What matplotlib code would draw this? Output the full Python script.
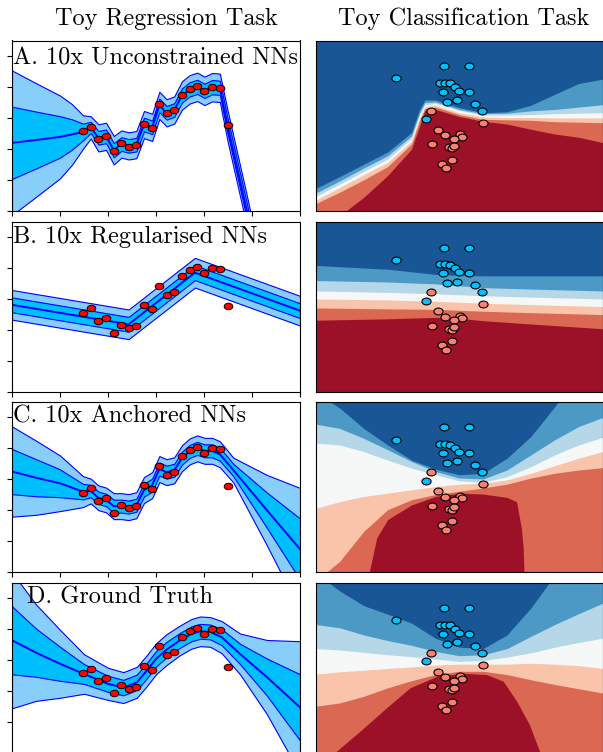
"""Toy regression / classification comparison figure."""

import numpy as np
import matplotlib
matplotlib.use('Agg')
import matplotlib.pyplot as plt
from matplotlib.path import Path

plt.rcParams['font.family'] = 'cmr10'
plt.rcParams['axes.formatter.use_mathtext'] = True

# ---- regression data (same points in every row) ----
x_train = [-1.52, -1.36, -1.20, -1.04, -0.88, -0.72, -0.57, -0.41, -0.25, -0.08,
           0.07, 0.22, 0.38, 0.54, 0.70, 0.86, 1.01, 1.17, 1.33, 1.49]
y_train = [-0.44, -0.29, -0.69, -0.60, -1.09, -0.82, -0.93, -0.88, -0.20, -0.33,
           0.44, 0.14, 0.24, 0.75, 0.94, 1.04, 0.85, 1.00, 0.97, -0.23]

# A. unconstrained
reg_a_x = [-3, -2.5, -2, -1.75, -1.52, -1.36, -1.20, -1.04, -0.88, -0.72, -0.57, -0.41,
           -0.25, -0.08, 0.07, 0.22, 0.38, 0.54, 0.70, 0.86, 1.01, 1.17, 1.33, 1.49,
           1.89, 2.5, 3.0]
reg_a_mean = [-0.81, -0.72, -0.62, -0.54, -0.46, -0.31, -0.65, -0.60, -1.05, -0.85, -0.91,
              -0.87, -0.22, -0.31, 0.40, 0.16, 0.25, 0.72, 0.92, 1.00, 0.87, 0.99, 0.97,
              -0.25, -3.0, -7.4, -11.0]
reg_a_std = [1.17, 0.92, 0.67, 0.49, 0.27, 0.18, 0.22, 0.22, 0.23, 0.22, 0.22, 0.22,
             0.22, 0.22, 0.22, 0.22, 0.22, 0.23, 0.23, 0.23, 0.23, 0.23, 0.23, 0.25,
             0.25, 0.25, 0.25]

# B. regularised
reg_b_x = [-3, -0.57, 0.81, 3]
reg_b_mean = [-0.18, -0.81, 0.86, -0.37]
reg_b_std = [0.24, 0.24, 0.24, 0.24]

# C. anchored
reg_c_x = [-3, -2.5, -2, -1.52, -1.36, -1.20, -1.04, -0.88, -0.72, -0.57, -0.41, -0.25,
           -0.08, 0.07, 0.22, 0.38, 0.54, 0.70, 0.86, 1.01, 1.17, 1.33, 1.61, 2.31, 3.0]
reg_c_mean = [0.25, 0.05, -0.13, -0.40, -0.38, -0.60, -0.67, -0.87, -0.87, -0.90, -0.84,
              -0.35, -0.19, 0.33, 0.23, 0.29, 0.68, 0.90, 1.00, 0.92, 0.92, 0.81, 0.30,
              -1.00, -2.26]
reg_c_std = [0.73, 0.60, 0.45, 0.25, 0.20, 0.20, 0.20, 0.21, 0.21, 0.21, 0.21, 0.21,
             0.21, 0.21, 0.21, 0.21, 0.21, 0.21, 0.21, 0.21, 0.21, 0.21, 0.20, 0.57, 0.99]

# D. ground truth
reg_d_x = [-3, -2.5, -2, -1.5, -1, -0.68, -0.4, -0.19, 0, 0.22, 0.5, 0.74, 0.92, 1.13,
           1.37, 1.75, 2.31, 3.0]
reg_d_mean = [0.63, 0.23, -0.13, -0.46, -0.78, -0.90, -0.73, -0.35, 0.03, 0.33, 0.63,
              0.84, 0.92, 0.90, 0.73, 0.19, -0.56, -1.54]
reg_d_std = [1.10, 0.78, 0.55, 0.32, 0.26, 0.25, 0.25, 0.25, 0.25, 0.25, 0.24, 0.24,
             0.24, 0.24, 0.26, 0.33, 0.60, 1.07]

# ---- classification data ----
blue_x = [-0.32, 0.21, -1.33, -0.41, -0.30, -0.20, -0.08, -0.01, -0.35, 0.20, -0.25,
          -0.05, 0.33, 0.48, -0.70]
blue_y = [1.26, 1.26, 1.00, 0.91, 0.91, 0.89, 0.82, 0.74, 0.72, 0.72, 0.50, 0.54,
          0.46, 0.31, 0.13]
red_x = [-0.60, 0.50, -0.44, -0.30, 0.02, 0.06, -0.10, -0.57, -0.21, -0.16, -0.12,
         -0.16, -0.36, -0.27]
red_y = [0.31, 0.06, -0.09, -0.21, -0.19, -0.24, -0.28, -0.40, -0.46, -0.48, -0.43,
         -0.73, -0.81, -0.91]

# decision-surface band boundaries (b1 lowest ... b6 highest)
cls_a_x = [-3, -2.5, -2, -1.5, -1, -0.83, -0.72, -0.5, 0, 0.5, 1, 1.5, 2, 2.5, 3]
cls_a_b1 = [-1.91, -1.91, -1.52, -1.06, -0.50, -0.01, 0.32, 0.34, 0.19, 0.09, 0.03, -0.08, -0.18, -0.25, -0.36]
cls_a_b2 = [-1.65, -1.41, -1.15, -0.87, -0.39, 0.10, 0.36, 0.39, 0.23, 0.13, 0.12, 0.11, 0.08, 0.07, 0.06]
cls_a_b3 = [-1.58, -1.31, -1.04, -0.78, -0.33, 0.16, 0.40, 0.43, 0.27, 0.18, 0.17, 0.17, 0.16, 0.16, 0.16]
cls_a_b4 = [-1.50, -1.24, -0.97, -0.71, -0.27, 0.22, 0.44, 0.47, 0.32, 0.22, 0.22, 0.23, 0.25, 0.26, 0.27]
cls_a_b5 = [-1.43, -1.17, -0.90, -0.64, -0.22, 0.27, 0.485, 0.50, 0.34, 0.25, 0.26, 0.31, 0.34, 0.39, 0.44]
cls_a_b6 = [-1.33, -1.08, -0.82, -0.56, -0.15, 0.34, 0.54, 0.54, 0.38, 0.27, 0.29, 0.43, 0.66, 0.89, 0.98]

cls_b_x = [-3, -1.5, -0.5, 0, 0.5, 1.5, 3]
cls_b_b1 = [-0.28, -0.25, -0.22, -0.24, -0.29, -0.36, -0.46]
cls_b_b2 = [-0.02, -0.04, -0.05, -0.07, -0.09, -0.12, -0.16]
cls_b_b3 = [0.17, 0.15, 0.12, 0.10, 0.08, 0.05, 0.01]
cls_b_b4 = [0.34, 0.31, 0.28, 0.26, 0.24, 0.21, 0.17]
cls_b_b5 = [0.56, 0.53, 0.49, 0.45, 0.41, 0.38, 0.34]
cls_b_b6 = [0.88, 0.80, 0.69, 0.67, 0.66, 0.66, 0.66]

cls_c_x = [-3, -2.5, -2, -1.5, -1, -0.5, 0, 0.5, 1, 1.5, 2, 2.5, 3]
cls_c_b1_x = [-3, -1.94, -1.88, -1.73, -1.5, -1.0, -0.5, 0, 0.5, 1.0, 1.2, 1.3, 1.34, 1.36, 3]
cls_c_b1 = [-1.99, -1.99, -1.78, -1.08, -0.69, -0.38, -0.20, -0.13, -0.15, -0.22, -0.31, -0.87, -1.30, -1.99, -1.99]
cls_c_b2 = [-1.99, -1.57, -0.94, -0.48, -0.27, -0.16, -0.09, -0.02, 0.06, 0.19, 0.29, 0.36, 0.41]
cls_c_b3 = [-0.45, -0.31, -0.20, -0.13, -0.06, 0.01, 0.06, 0.08, 0.15, 0.29, 0.45, 0.61, 0.75]
cls_c_b4 = [0.93, 0.89, 0.75, 0.57, 0.40, 0.26, 0.13, 0.10, 0.22, 0.43, 0.68, 0.89, 1.05]
cls_c_b5 = [1.33, 1.24, 1.03, 0.79, 0.54, 0.33, 0.19, 0.17, 0.36, 0.68, 1.00, 1.28, 1.47]
cls_c_b6_x = [-3, -2.7, -2.5, -2, -1.5, -1, -0.5, 0, 0.5, 1, 1.5, 2, 2.07, 2.5, 3]
cls_c_b6 = [2.0, 1.8, 1.67, 1.24, 0.89, 0.57, 0.38, 0.26, 0.29, 0.61, 1.07, 1.70, 1.8, 2.0, 2.0]

cls_d_x = [-3, -2.5, -2, -1.5, -1, -0.5, 0, 0.5, 1, 1.5, 2, 2.5, 3]
cls_d_b1_x = [-3, -2.6, -2.57, -2.08, -1.52, -1.03, -0.48, 0.08, 0.57, 0.92, 1.2, 1.47, 1.68, 1.72, 3]
cls_d_b1 = [-2.0, -2.0, -1.77, -1.35, -0.85, -0.43, -0.19, -0.12, -0.15, -0.29, -0.71, -1.21, -1.77, -2.0, -2.0]
cls_d_b2 = [-0.82, -0.75, -0.61, -0.43, -0.28, -0.15, -0.08, -0.08, -0.15, -0.26, -0.36, -0.45, -0.54]
cls_d_b3 = [-0.14, -0.09, -0.06, -0.02, 0.01, 0.05, 0.07, 0.07, 0.07, 0.09, 0.07, 0.04, -0.02]
cls_d_b4 = [0.40, 0.37, 0.32, 0.27, 0.23, 0.18, 0.13, 0.15, 0.22, 0.31, 0.43, 0.53, 0.62]
cls_d_b5 = [0.91, 0.84, 0.69, 0.57, 0.47, 0.34, 0.25, 0.27, 0.40, 0.66, 0.91, 1.14, 1.36]
cls_d_b6_x = [-3, -2.74, -2.5, -2, -1.5, -1, -0.5, 0, 0.5, 1, 1.5, 1.89, 2.0, 3]
cls_d_b6 = [2.0, 1.8, 1.62, 1.31, 1.13, 0.94, 0.62, 0.43, 0.40, 0.69, 1.26, 1.8, 2.0, 2.0]

row_labels = ['A. 10x Unconstrained NNs', 'B. 10x Regularised NNs',
              'C. 10x Anchored NNs', 'D. Ground Truth']


def ellipse_marker():
    circ = Path.unit_circle()
    return Path(circ.vertices * np.array([1.0, 0.75]), circ.codes)


def plot_regression(ax, xs, mean, std, label, label_pos):
    xs = np.array(xs)
    mean = np.array(mean)
    std = np.array(std)
    ax.fill_between(xs, mean - 2 * std, mean + 2 * std, facecolor='lightskyblue',
                    edgecolor='blue', linewidth=0.8)
    ax.fill_between(xs, mean - std, mean + std, facecolor='deepskyblue',
                    edgecolor='blue', linewidth=0.8)
    ax.plot(xs, mean, color='blue', linewidth=1.4)
    ax.plot(x_train, y_train, linestyle='none', marker=ellipse_marker(), markersize=6.2,
            markerfacecolor='red', markeredgecolor='black', markeredgewidth=0.7)
    ax.set_xlim(-3, 3)
    ax.set_ylim(-3, 2.5)
    ax.set_xticks(range(-3, 4))
    ax.set_yticks(range(-3, 3))
    ax.tick_params(direction='out', length=3.5, width=0.8, labelleft=False, labelbottom=False)
    ax.text(label_pos[0], label_pos[1], label, transform=ax.transAxes, fontsize=17.5,
            va='baseline')


def plot_classification(ax, boundaries):
    colors = plt.cm.RdBu(np.linspace(1 / 14, 13 / 14, 7))
    ax.fill_between([-3, 3], [-3, -3], [3, 3], color=colors[0], linewidth=0)
    for i, (bx, by) in enumerate(boundaries):
        ax.fill_between(bx, by, 3, color=colors[i + 1], linewidth=0)
    mk = ellipse_marker()
    ax.plot(blue_x, blue_y, linestyle='none', marker=mk, markersize=6.6,
            markerfacecolor='deepskyblue', markeredgecolor='black', markeredgewidth=0.8)
    ax.plot(red_x, red_y, linestyle='none', marker=mk, markersize=6.6,
            markerfacecolor='salmon', markeredgecolor='black', markeredgewidth=0.8)
    ax.set_xlim(-3, 3)
    ax.set_ylim(-1.8, 1.8)
    ax.set_xticks([])
    ax.set_yticks([])


W, H = 603, 752
fig = plt.figure(figsize=(W / 100, H / 100), dpi=100)

row_bottoms = [210.5, 392.0, 572.0, 752.5]
reg_rows = [(reg_a_x, reg_a_mean, reg_a_std), (reg_b_x, reg_b_mean, reg_b_std),
            (reg_c_x, reg_c_mean, reg_c_std), (reg_d_x, reg_d_mean, reg_d_std)]
cls_rows = [
    [(cls_a_x, cls_a_b1), (cls_a_x, cls_a_b2), (cls_a_x, cls_a_b3),
     (cls_a_x, cls_a_b4), (cls_a_x, cls_a_b5), (cls_a_x, cls_a_b6)],
    [(cls_b_x, cls_b_b1), (cls_b_x, cls_b_b2), (cls_b_x, cls_b_b3),
     (cls_b_x, cls_b_b4), (cls_b_x, cls_b_b5), (cls_b_x, cls_b_b6)],
    [(cls_c_b1_x, cls_c_b1), (cls_c_x, cls_c_b2), (cls_c_x, cls_c_b3),
     (cls_c_x, cls_c_b4), (cls_c_x, cls_c_b5), (cls_c_b6_x, cls_c_b6)],
    [(cls_d_b1_x, cls_d_b1), (cls_d_x, cls_d_b2), (cls_d_x, cls_d_b3),
     (cls_d_x, cls_d_b4), (cls_d_x, cls_d_b5), (cls_d_b6_x, cls_d_b6)],
]
label_pos = [(0.004, 0.86), (0.004, 0.875), (0.004, 0.877), (0.052, 0.875)]

for i in range(4):
    bottom = 1 - row_bottoms[i] / H
    ax_r = fig.add_axes([12 / W, bottom, 288 / W, 170 / H])
    plot_regression(ax_r, *reg_rows[i], row_labels[i], label_pos[i])
    ax_c = fig.add_axes([316 / W, bottom, 286.5 / W, 170 / H])
    plot_classification(ax_c, cls_rows[i])

fig.text(166 / W, 1 - 25 / H, 'Toy Regression Task', ha='center', va='baseline', fontsize=17.5)
fig.text(464 / W, 1 - 25 / H, 'Toy Classification Task', ha='center', va='baseline', fontsize=17.5)

fig.savefig('out.png', dpi=100)
